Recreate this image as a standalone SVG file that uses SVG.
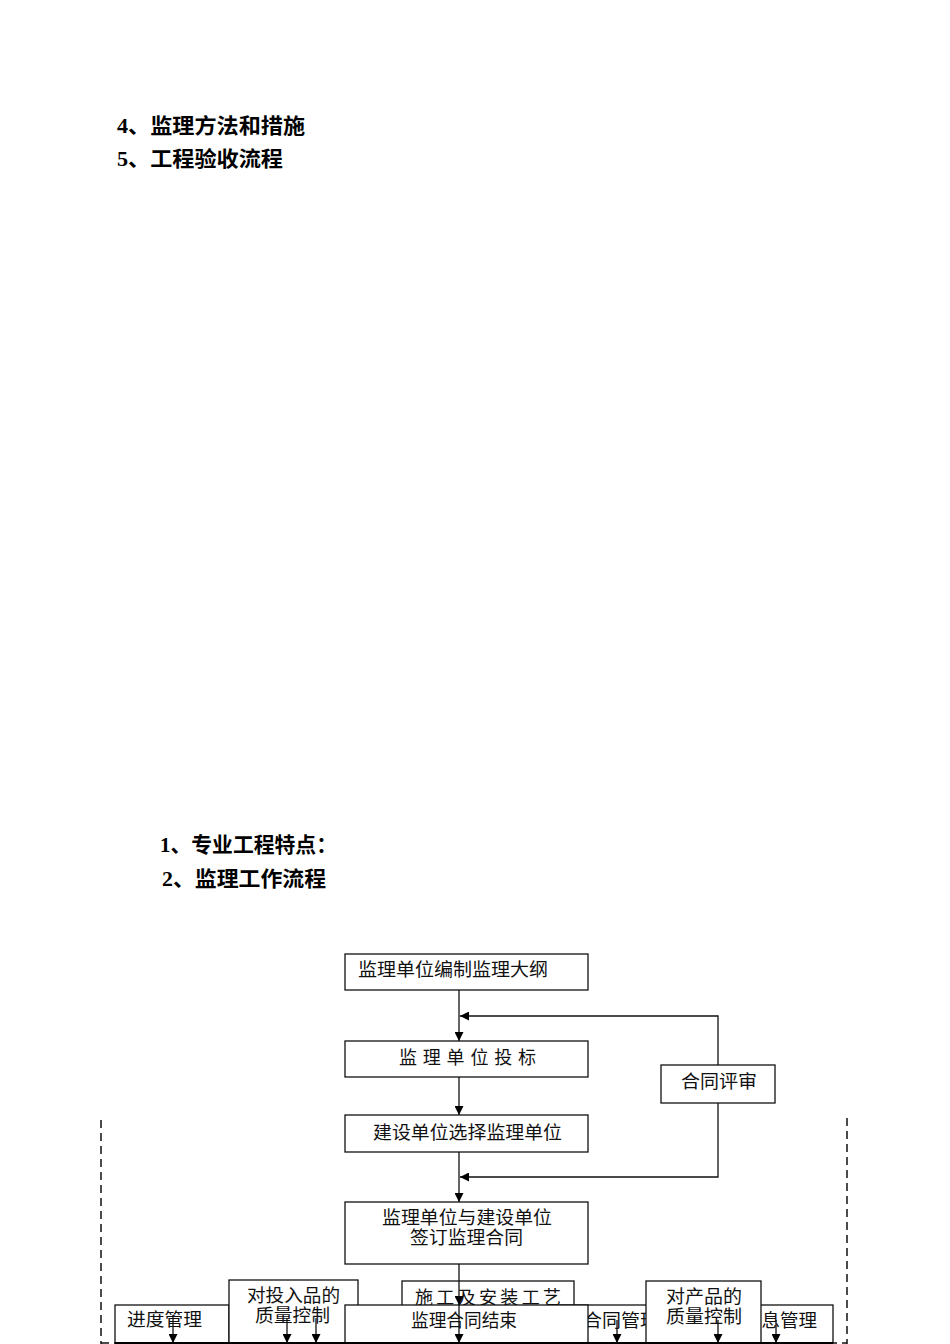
<svg xmlns="http://www.w3.org/2000/svg" width="950" height="1344" viewBox="0 0 950 1344">
<style>
.t{font-family:"Liberation Serif","Noto Sans CJK SC",serif;font-size:21px;font-weight:bold;fill:#000}
.b{font-family:"Noto Sans CJK SC","Liberation Sans",sans-serif;font-size:18px;fill:#111}
.box{fill:#fff;stroke:#111;stroke-width:1.3}
.ln{fill:none;stroke:#111;stroke-width:1.3}
.dash{fill:none;stroke:#111;stroke-width:1.5;stroke-dasharray:8 5}
</style>
<defs>
<marker id="ah" viewBox="0 0 10 10" refX="10" refY="5" markerWidth="9" markerHeight="9" markerUnits="userSpaceOnUse" orient="auto">
<path d="M0,0 L10,5 L0,10 z" fill="#000"/>
</marker>
</defs>
<rect width="950" height="1344" fill="#fff"/>
<g id="titles">
<text class="t" x="117" y="133" textLength="188" lengthAdjust="spacingAndGlyphs">4、监理方法和措施</text>
<text class="t" x="117" y="166" textLength="166" lengthAdjust="spacingAndGlyphs">5、工程验收流程</text>
<text class="t" x="160" y="852" textLength="177" lengthAdjust="spacingAndGlyphs">1、专业工程特点：</text>
<text class="t" x="162" y="886" textLength="164" lengthAdjust="spacingAndGlyphs">2、监理工作流程</text>
</g>
<g id="frame">
<line class="dash" x1="101" y1="1120" x2="101" y2="1344"/>
<line class="dash" x1="847" y1="1118" x2="847" y2="1344"/>
<line class="dash" x1="101" y1="1343" x2="847" y2="1343"/>
</g>
<g id="connectors">
<line class="ln" x1="459" y1="990" x2="459" y2="1041" marker-end="url(#ah)"/>
<polyline class="ln" points="718,1065 718,1016 460,1016" marker-end="url(#ah)"/>
<line class="ln" x1="459" y1="1077" x2="459" y2="1115" marker-end="url(#ah)"/>
<line class="ln" x1="459" y1="1152" x2="459" y2="1202" marker-end="url(#ah)"/>
<polyline class="ln" points="718,1103 718,1177 460,1177" marker-end="url(#ah)"/>
</g>
<g id="n1"><rect class="box" x="345" y="954" width="243" height="36"/><text class="b" x="358" y="976" textLength="190" lengthAdjust="spacingAndGlyphs">监理单位编制监理大纲</text></g>
<g id="n2"><rect class="box" x="345" y="1041" width="243" height="36"/><text class="b" x="399" y="1064" textLength="137" lengthAdjust="spacing">监理单位投标</text></g>
<g id="n3"><rect class="box" x="345" y="1115" width="243" height="37"/><text class="b" x="373" y="1139" textLength="189" lengthAdjust="spacingAndGlyphs">建设单位选择监理单位</text></g>
<g id="n4"><rect class="box" x="345" y="1202" width="243" height="62"/><text class="b" x="382" y="1224" textLength="170" lengthAdjust="spacingAndGlyphs">监理单位与建设单位</text><text class="b" x="410" y="1244" textLength="113" lengthAdjust="spacingAndGlyphs">签订监理合同</text></g>
<g id="n5"><rect class="box" x="661" y="1065" width="114" height="38"/><text class="b" x="681" y="1088" textLength="76" lengthAdjust="spacingAndGlyphs">合同评审</text></g>
<g id="n6"><rect class="box" x="115" y="1305" width="114" height="38"/><text class="b" x="127" y="1326" textLength="75" lengthAdjust="spacingAndGlyphs">进度管理</text></g>
<g id="n7"><rect class="box" x="229" y="1280" width="129" height="63"/><text class="b" x="247" y="1302" textLength="93" lengthAdjust="spacingAndGlyphs">对投入品的</text><text class="b" x="255" y="1322" textLength="75" lengthAdjust="spacingAndGlyphs">质量控制</text></g>
<g id="n8"><rect class="box" x="402" y="1281" width="172" height="62"/><text class="b" x="415" y="1304" textLength="146" lengthAdjust="spacing">施工及安装工艺</text></g>
<g id="n9"><rect class="box" x="560" y="1305" width="120" height="38"/><text class="b" x="583" y="1327" textLength="76" lengthAdjust="spacingAndGlyphs">合同管理</text></g>
<g id="n10"><rect class="box" x="720" y="1305" width="113" height="38"/><text class="b" x="743" y="1327" textLength="74" lengthAdjust="spacingAndGlyphs">信息管理</text></g>
<g id="n11"><rect class="box" x="646" y="1281" width="115" height="62"/><text class="b" x="666" y="1303" textLength="76" lengthAdjust="spacingAndGlyphs">对产品的</text><text class="b" x="666" y="1323" textLength="76" lengthAdjust="spacingAndGlyphs">质量控制</text></g>
<g id="n12"><rect class="box" x="345" y="1305" width="243" height="38"/><text class="b" x="411" y="1327" textLength="106" lengthAdjust="spacingAndGlyphs">监理合同结束</text></g>
<g id="connectors2">
<line class="ln" x1="459" y1="1264" x2="459" y2="1305" marker-end="url(#ah)"/>
<line class="ln" x1="459" y1="1305" x2="459" y2="1343" marker-end="url(#ah)"/>
<line class="ln" x1="173" y1="1315" x2="173" y2="1343" marker-end="url(#ah)"/>
<line class="ln" x1="287" y1="1318" x2="287" y2="1343" marker-end="url(#ah)"/>
<line class="ln" x1="316" y1="1318" x2="316" y2="1343" marker-end="url(#ah)"/>
<line class="ln" x1="617" y1="1320" x2="617" y2="1343" marker-end="url(#ah)"/>
<line class="ln" x1="718" y1="1320" x2="718" y2="1343" marker-end="url(#ah)"/>
<line class="ln" x1="776" y1="1320" x2="776" y2="1343" marker-end="url(#ah)"/>
</g>
<line x1="115" y1="1343" x2="833" y2="1343" stroke="#000" stroke-width="2"/>
</svg>
